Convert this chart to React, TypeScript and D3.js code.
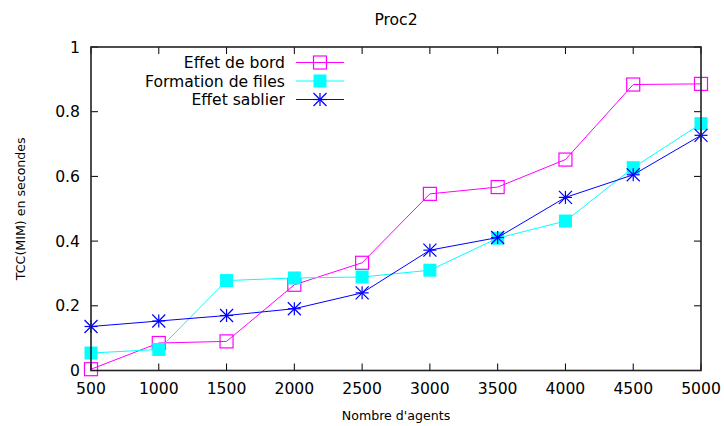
import React from "react";
import * as d3 from "d3";

const agents = [500, 1000, 1500, 2000, 2500, 3000, 3500, 4000, 4500, 5000];
const effetBord = [0.004, 0.085, 0.09, 0.265, 0.333, 0.546, 0.567, 0.652, 0.884, 0.886];
const formationFiles = [0.054, 0.065, 0.278, 0.286, 0.289, 0.31, 0.409, 0.462, 0.627, 0.763];
const effetSablier = [0.136, 0.153, 0.17, 0.191, 0.24, 0.372, 0.411, 0.535, 0.605, 0.727];
const yTicks = [0, 0.2, 0.4, 0.6, 0.8, 1];
const yTickLabels = ["0", "0.2", "0.4", "0.6", "0.8", "1"];
const seriesNames = ["Effet de bord", "Formation de files", "Effet sablier"];

const W = 724, H = 426;
const L = 91, R = 701, T = 47, B = 370.5;
const FONT = "DejaVu Sans, sans-serif";

function Marker({ kind, x, y, color }: { kind: string; x: number; y: number; color: string }) {
  const s = 6.5;
  if (kind === "open") {
    return <rect x={x - s} y={y - s} width={2 * s} height={2 * s} fill="none" stroke={color} strokeWidth={1.2} />;
  }
  if (kind === "filled") {
    return <rect x={x - s} y={y - s} width={2 * s} height={2 * s} fill={color} stroke="none" />;
  }
  const a = 6.5, b = 6.5;
  return (
    <g stroke={color} strokeWidth={1.2}>
      <line x1={x - a} y1={y} x2={x + a} y2={y} />
      <line x1={x} y1={y - a} x2={x} y2={y + a} />
      <line x1={x - b} y1={y - b} x2={x + b} y2={y + b} />
      <line x1={x - b} y1={y + b} x2={x + b} y2={y - b} />
    </g>
  );
}

export default function App() {
  const x = d3.scaleLinear().domain([500, 5000]).range([L, R]);
  const y = d3.scaleLinear().domain([0, 1]).range([B, T]);
  const line = d3.line<number>().x((_, i) => x(agents[i])).y((d) => y(d));
  const series = [
    { name: seriesNames[0], data: effetBord, color: "#ff00ff", kind: "open" },
    { name: seriesNames[1], data: formationFiles, color: "#00ffff", kind: "filled" },
    { name: seriesNames[2], data: effetSablier, color: "#0000ff", kind: "star" },
  ];
  const tickLen = 7;
  const legendY = [62.5, 81, 99.5];
  return (
    <svg width={W} height={H} style={{ position: "absolute", left: 0, top: 0, background: "#fff" }} fontFamily={FONT}>
      <rect x={0} y={0} width={W} height={H} fill="#fff" />
      {/* ticks */}
      <g stroke="#000" strokeWidth={1}>
        {agents.map((a) => (
          <g key={a}>
            <line x1={x(a)} x2={x(a)} y1={B} y2={B - tickLen} />
            <line x1={x(a)} x2={x(a)} y1={T} y2={T + tickLen} />
          </g>
        ))}
        {yTicks.map((t) => (
          <g key={t}>
            <line x1={L} x2={L + tickLen} y1={y(t)} y2={y(t)} />
            <line x1={R} x2={R - tickLen} y1={y(t)} y2={y(t)} />
          </g>
        ))}
      </g>
      {/* tick labels */}
      <g fontSize={15.6} fill="#000">
        {agents.map((a) => (
          <text key={a} x={x(a)} y={393.5} textAnchor="middle">{a}</text>
        ))}
        {yTicks.map((t, i) => (
          <text key={t} x={80} y={y(t) + 5.5} textAnchor="end">{yTickLabels[i]}</text>
        ))}
      </g>
      {/* series */}
      {series.map((s) => (
        <g key={s.name}>
          <path d={line(s.data) || ""} fill="none" stroke={s.color} strokeWidth={1} />
          {s.data.map((v, i) => (
            <Marker key={i} kind={s.kind} x={x(agents[i])} y={y(v)} color={s.color} />
          ))}
        </g>
      ))}
      {/* legend */}
      {series.map((s, i) => (
        <g key={s.name}>
          <text x={285} y={legendY[i] + 5.5} textAnchor="end" fontSize={15.6}>{s.name}</text>
          <line x1={296} x2={344} y1={legendY[i]} y2={legendY[i]} stroke={s.color} strokeWidth={1} />
          <Marker kind={s.kind} x={320} y={legendY[i]} color={s.color} />
        </g>
      ))}
      {/* border */}
      <rect x={L} y={T} width={R - L} height={B - T} fill="none" stroke="#222" strokeWidth={1.6} />
      {/* title and labels */}
      <text x={(L + R) / 2} y={25} textAnchor="middle" fontSize={15.6}>Proc2</text>
      <text x={(L + R) / 2} y={420} textAnchor="middle" fontSize={12.6}>Nombre d'agents</text>
      <text transform={`translate(25, ${(T + B) / 2}) rotate(-90)`} textAnchor="middle" fontSize={12.6}>TCC(MIM) en secondes</text>
    </svg>
  );
}
